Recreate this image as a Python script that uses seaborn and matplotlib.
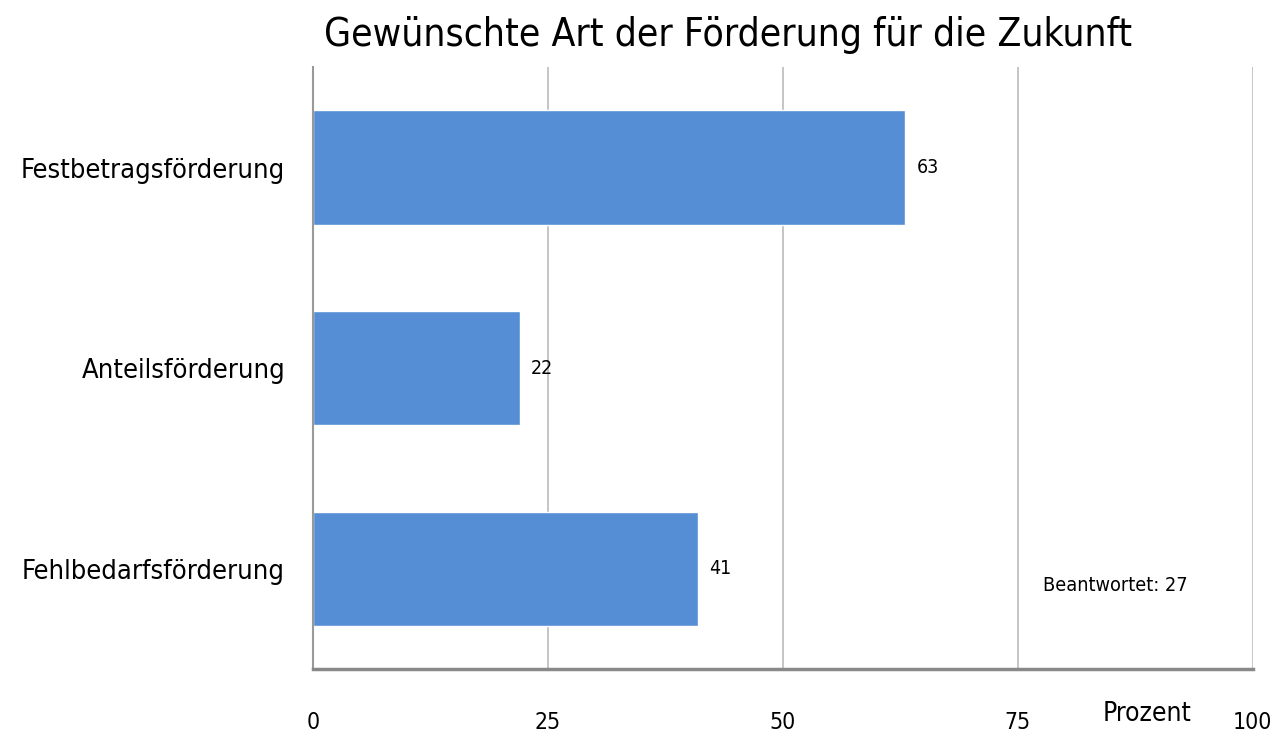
import pandas as pd
import matplotlib.pyplot as plt
import seaborn as sns

categories = ["Festbetragsförderung", "Anteilsförderung", "Fehlbedarfsförderung"]
values = [63, 22, 41]
x_ticks = [0, 25, 50, 75, 100]

df = pd.DataFrame({"art": categories, "prozent": values})

sns.set_style("white")
plt.rcParams.update(
    {
        "font.family": ["DejaVu Sans"],
        "font.stretch": "condensed",
        "text.color": "black",
        "xtick.color": "black",
        "ytick.color": "black",
    }
)

fig = plt.figure(figsize=(12.77, 7.47), dpi=100)
ax = fig.add_axes([0.245, 0.104, 0.736, 0.806])

sns.barplot(data=df, x="prozent", y="art", orient="h", color="#558ED5",
            saturation=1, width=0.57, ax=ax)

ax.set_xlim(0, 100)
ax.set_ylim(2.5, -0.5)
ax.set_xticks(x_ticks)
ax.set_xticklabels([str(t) for t in x_ticks], fontsize=16.5)
ax.tick_params(axis="x", length=0, pad=30)
ax.tick_params(axis="y", length=0, pad=20, labelsize=19.5)
ax.xaxis.grid(True, color="#C0C0C0", linewidth=1.3)
ax.set_axisbelow(True)
ax.set_xlabel("")
ax.set_ylabel("")

for side in ["top", "right"]:
    ax.spines[side].set_visible(False)
ax.spines["left"].set_color("#999999")
ax.spines["left"].set_linewidth(1.5)
ax.spines["bottom"].set_color("#888888")
ax.spines["bottom"].set_linewidth(2.5)

# data labels next to the bars
for i, v in enumerate(values):
    ax.text(v + 1.2, i, str(v), va="center", ha="left", fontsize=14)

ax.text(0.888, -0.074, "Prozent", transform=ax.transAxes, ha="center",
        va="center", fontsize=19)
ax.text(0.854, 0.14, "Beantwortet: 27", transform=ax.transAxes, ha="center",
        va="center", fontsize=14.2)

fig.suptitle("Gewünschte Art der Förderung für die Zukunft", fontsize=28,
             x=0.570, y=0.978, va="top")

fig.savefig("out.png", dpi=100)
